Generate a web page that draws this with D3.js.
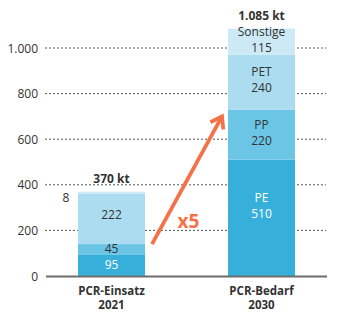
<!DOCTYPE html>
<html><head><meta charset="utf-8">
<script src="https://cdn.jsdelivr.net/npm/d3@7"></script>
<style>body{margin:0;background:#fff}svg{display:block}text{font-family:"Open Sans","Noto Sans",sans-serif}</style>
</head><body>
<script>
const categories = ["PCR-Einsatz|2021", "PCR-Bedarf|2030"];
const segments = ["PE", "PP", "PET", "Sonstige"];
const values2021 = [95, 45, 222, 8];
const values2030 = [510, 220, 240, 115];
const totals = ["370 kt", "1.085 kt"];
const yTicks = [0, 200, 400, 600, 800, 1000];
const tickLabels = ["0", "200", "400", "600", "800", "1.000"];
const colors = ["#36b0da", "#6bc5e5", "#abdcf0", "#cde9f6"];
const factorLabel = "x5";

const W = 337, H = 323;
const svg = d3.select("body").append("svg").attr("width", W).attr("height", H);
const y = d3.scaleLinear().domain([0, 1000]).range([276, 48]);
const x = d3.scaleBand().domain(categories).range([36.5, 336.5]).paddingInner(0.5533).paddingOuter(0.2767);
const bw = x.bandwidth();

// gridlines
svg.append("g").selectAll("line").data(yTicks.slice(1)).join("line")
  .attr("x1", 45).attr("x2", 326).attr("y1", d => y(d)).attr("y2", d => y(d))
  .attr("stroke", "#555").attr("stroke-width", 1).attr("stroke-dasharray", "2,2");
// tick labels
svg.append("g").selectAll("text").data(yTicks).join("text")
  .attr("x", 38).attr("y", d => y(d) + 4.5).attr("text-anchor", "end")
  .attr("font-size", 12).attr("fill", "#333").text((d, i) => tickLabels[i]);

const series = [values2021, values2030];
series.forEach((vals, ci) => {
  const cat = categories[ci];
  let acc = 0;
  const segs = vals.map((v, i) => { const s = {i, v, y0: acc, y1: acc + v}; acc += v; return s; });
  const g = svg.append("g");
  g.selectAll("rect").data(segs).join("rect")
    .attr("x", x(cat)).attr("width", bw)
    .attr("y", d => y(d.y1)).attr("height", d => y(d.y0) - y(d.y1))
    .attr("fill", d => colors[d.i]);
  segs.forEach(s => {
    const top = y(s.y1), bot = y(s.y0), mid = (top + bot) / 2;
    const cx = x(cat) + bw / 2;
    const fill = s.i === 0 ? "#fff" : "#333";
    if (ci === 0) {
      if (s.i === 3) {
        g.append("text").attr("x", x(cat) - 12).attr("y", mid + 9).attr("text-anchor", "middle")
          .attr("font-size", 12).attr("fill", "#333").text(s.v);
      } else {
        const dy = s.i === 2 ? 0 : 4;
        g.append("text").attr("x", cx).attr("y", mid + dy).attr("text-anchor", "middle")
          .attr("font-size", 12).attr("fill", fill).text(s.v);
      }
    } else {
      const shift = (bot - top) > 80 ? -11 : -1;
      g.append("text").attr("x", cx).attr("y", mid - 5 + shift).attr("text-anchor", "middle")
        .attr("font-size", 12).attr("fill", fill).text(segments[s.i]);
      g.append("text").attr("x", cx).attr("y", mid + 11 + shift).attr("text-anchor", "middle")
        .attr("font-size", 12).attr("fill", fill).text(s.v);
    }
  });
  g.append("text").attr("x", x(cat) + bw / 2).attr("y", y(acc) - 9).attr("text-anchor", "middle")
    .attr("font-size", 12).attr("font-weight", "bold").attr("fill", "#333").text(totals[ci]);
  const parts = cat.split("|");
  parts.forEach((p, k) => {
    svg.append("text").attr("x", x(cat) + bw / 2).attr("y", 295 + k * 14).attr("text-anchor", "middle")
      .attr("font-size", 11.5).attr("font-weight", "bold").attr("fill", "#333").text(p);
  });
});

// baseline
svg.append("line").attr("x1", 46).attr("x2", 327).attr("y1", y(0) + 0.5).attr("y2", y(0) + 0.5)
  .attr("stroke", "#6d6d6d").attr("stroke-width", 2);

// arrow
const orange = "#f5714a";
const ax0 = x(categories[0]) + bw + 7, ay0 = y(140);
const ax1 = x(categories[1]) - 6, ay1 = y(700);
svg.append("line").attr("x1", ax0).attr("y1", ay0).attr("x2", ax1).attr("y2", ay1)
  .attr("stroke", orange).attr("stroke-width", 3.8);
const ang = Math.atan2(ay1 - ay0, ax1 - ax0);
const L = 13, spread = 0.6;
const p1 = [ax1 - L * Math.cos(ang - spread), ay1 - L * Math.sin(ang - spread)];
const p2 = [ax1 - L * Math.cos(ang + spread), ay1 - L * Math.sin(ang + spread)];
svg.append("path").attr("d", `M${p1}L${ax1},${ay1}L${p2}`)
  .attr("fill", "none").attr("stroke", orange).attr("stroke-width", 3.8).attr("stroke-linejoin", "miter");
svg.append("text").attr("x", 188.5).attr("y", 228).attr("text-anchor", "middle")
  .attr("font-size", 19).attr("font-weight", "bold").attr("fill", orange).text(factorLabel);
</script>
</body></html>
